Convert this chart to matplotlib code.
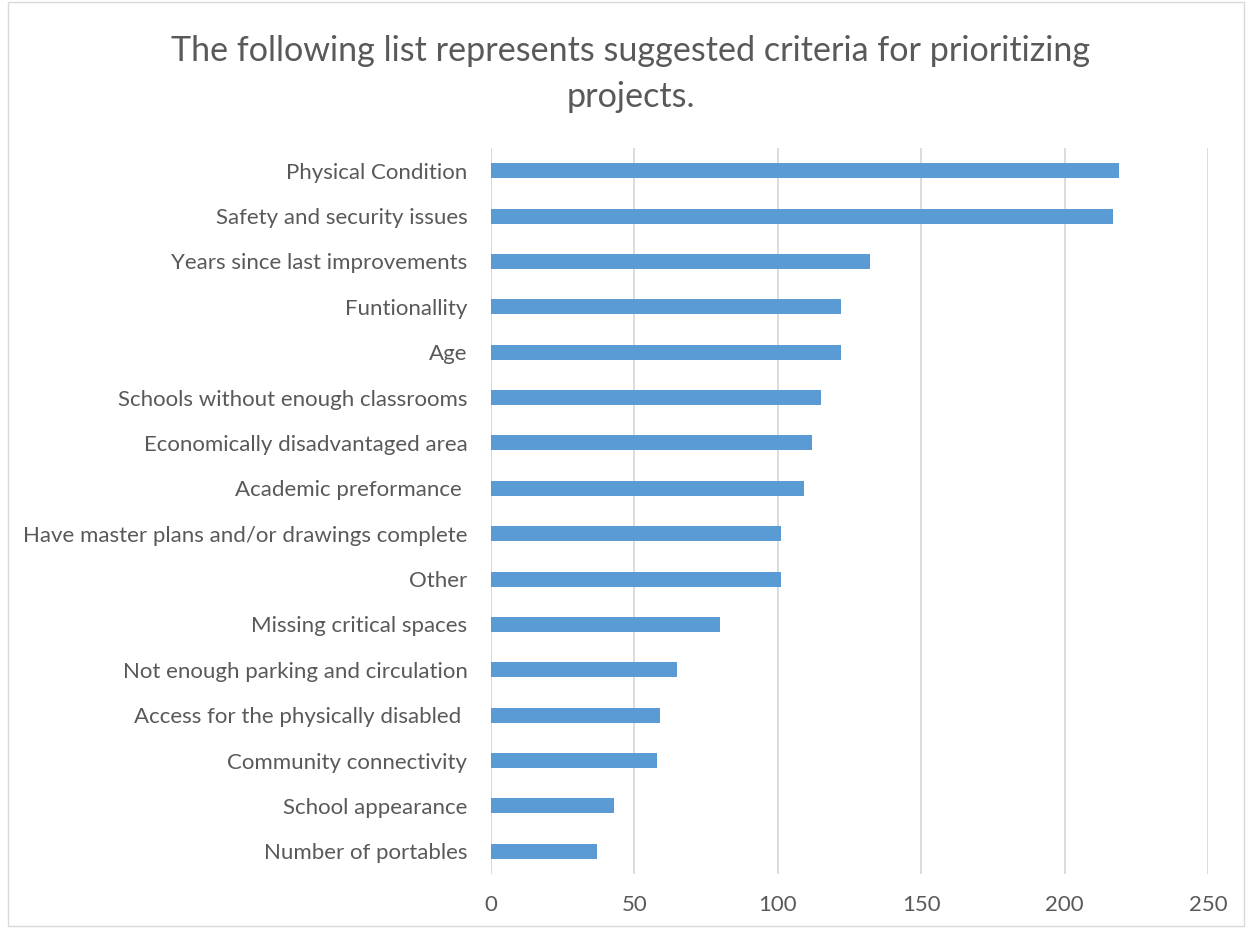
import matplotlib
matplotlib.use("Agg")
import matplotlib.pyplot as plt
from matplotlib.patches import Rectangle

plt.rcParams['font.family'] = ['Lato', 'DejaVu Sans']

# Данные
criteria = [
    "Physical Condition",
    "Safety and security issues",
    "Years since last improvements",
    "Funtionallity",
    "Age",
    "Schools without enough classrooms",
    "Economically disadvantaged area",
    "Academic preformance ",
    "Have master plans and/or drawings complete",
    "Other",
    "Missing critical spaces",
    "Not enough parking and circulation",
    "Access for the physically disabled ",
    "Community connectivity",
    "School appearance",
    "Number of portables",
]
votes = [219, 217, 132, 122, 122, 115, 112, 109, 101, 101, 80, 65, 59, 58, 43, 37]
xticks = [0, 50, 100, 150, 200, 250]

text_col = '#595959'
bar_col = '#5B9BD5'
grid_col = '#D9D9D9'

fig = plt.figure(figsize=(12.52, 9.3), dpi=100)
ax = fig.add_axes([491 / 1252, 1 - 874 / 930, (1208 - 491) / 1252, (874 - 148) / 930])

# рамка вокруг диаграммы
fig.patches.append(Rectangle((8 / 1252, 4 / 930), 1236 / 1252, 924 / 930,
                             transform=fig.transFigure, fill=False,
                             edgecolor=grid_col, linewidth=1))

y = list(range(len(criteria)))
ax.barh(y, votes, height=0.33, color=bar_col, zorder=3)
ax.set_ylim(len(criteria) - 0.5, -0.5)
ax.set_yticks(y)
ax.set_yticklabels(criteria)
ax.set_xlim(0, 250)
ax.set_xticks(xticks)

ax.grid(axis='x', color=grid_col, linewidth=1.3, zorder=0)
for s in ax.spines.values():
    s.set_visible(False)
ax.axvline(0, color=grid_col, linewidth=1.3, zorder=1)

ax.tick_params(axis='y', length=0, pad=17, labelsize=16, labelcolor=text_col)
ax.tick_params(axis='x', length=0, pad=15, labelsize=16, labelcolor=text_col)

fig.text(0.504, 1 - 74 / 930,
         "The following list represents suggested criteria for prioritizing\nprojects.",
         ha='center', va='center', fontsize=24.6,
         color=text_col, linespacing=1.55)

fig.savefig('out.png', dpi=100)
